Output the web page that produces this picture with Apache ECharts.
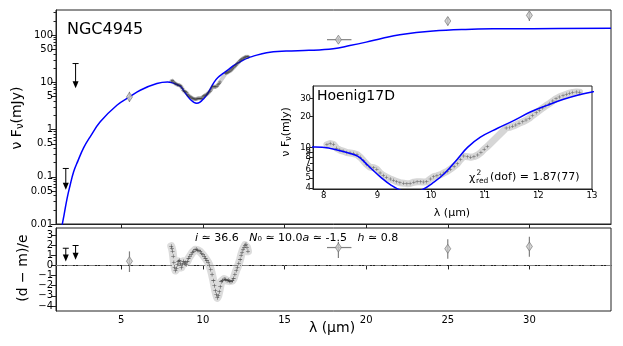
<!DOCTYPE html>
<html>
<head>
<meta charset="utf-8">
<script src="https://cdn.jsdelivr.net/npm/echarts@6/dist/echarts.min.js"></script>
<style>
  html, body { margin: 0; padding: 0; background: #fff; }
  #chart { width: 623px; height: 346px; }
</style>
</head>
<body>
<div id="chart"></div>
<script>
// model SED (blue curve), lambda in micron, nuFnu in mJy
const modelLam = [1.3, 1.39, 1.5, 1.68, 1.85, 2.08, 2.35, 2.69, 3.1, 3.71, 4.73, 5.5, 6.16, 7.18, 7.84, 8.09, 8.46, 8.64, 8.83, 9.07, 9.26, 9.45, 9.62, 9.8, 10.06, 10.25, 10.49, 10.68, 10.92, 11.24, 11.54, 11.85, 12.16, 12.47, 12.78, 13.0, 13.9, 15.1, 16.5, 17.98, 19.0, 20.0, 21.0, 22.06, 24.1, 26.1, 28.2, 30.2, 35];
const modelVal = [0.006, 0.01, 0.016, 0.035, 0.063, 0.128, 0.22, 0.41, 0.71, 1.46, 3.27, 4.9, 6.8, 9.4, 10.1, 9.85, 8.8, 8.15, 6.6, 5.05, 4.24, 3.75, 3.6, 3.75, 4.57, 5.53, 7.66, 10.0, 12.6, 15.4, 18.3, 22.2, 25.8, 29.6, 33, 35, 42.5, 46, 47.5, 51.6, 60, 71, 86, 102, 122, 132, 136, 137, 140];

// Spitzer spectrum (Hoenig17D)
const specLam = [8.06, 8.12, 8.18, 8.24, 8.30, 8.36, 8.43, 8.49, 8.55, 8.62, 8.68, 8.74, 8.80, 8.86, 8.93, 8.99, 9.05, 9.11, 9.17, 9.24, 9.30, 9.36, 9.42, 9.49, 9.55, 9.61, 9.68, 9.74, 9.80, 9.86, 9.92, 9.99, 10.05, 10.11, 10.18, 10.24, 10.30, 10.36, 10.43, 10.49, 10.55, 10.61, 10.68, 10.74, 10.80, 10.87, 10.93, 10.99, 11.05, 11.40, 11.46, 11.52, 11.58, 11.64, 11.71, 11.77, 11.83, 11.89, 11.96, 12.02, 12.08, 12.14, 12.21, 12.27, 12.33, 12.39, 12.46, 12.52, 12.58, 12.64, 12.71, 12.77];
const specVal = [10.6, 10.9, 10.7, 9.8, 9.4, 9.2, 8.9, 8.8, 8.7, 8.5, 8.0, 7.4, 6.8, 6.4, 6.3, 6.1, 5.6, 5.3, 5.1, 4.9, 4.75, 4.6, 4.5, 4.45, 4.4, 4.42, 4.55, 4.6, 4.6, 4.58, 4.6, 4.9, 5.15, 5.25, 5.4, 5.6, 5.8, 6.1, 6.5, 6.9, 7.6, 8.2, 8.1, 8.0, 8.1, 8.4, 8.9, 9.6, 10.2, 15.5, 15.7, 16.1, 16.6, 17.2, 17.8, 18.5, 19.3, 20.5, 21.8, 23.0, 24.3, 25.6, 27.0, 28.5, 30.0, 31.2, 32.3, 33.2, 34.0, 34.6, 34.9, 34.8];

// residuals of the spectrum
const resLam = [8.06, 8.10, 8.14, 8.18, 8.22, 8.27, 8.32, 8.38, 8.44, 8.50, 8.56, 8.62, 8.68, 8.74, 8.80, 8.86, 8.92, 8.98, 9.05, 9.12, 9.20, 9.28, 9.36, 9.44, 9.52, 9.60, 9.68, 9.76, 9.84, 9.92, 10.00, 10.08, 10.16, 10.24, 10.32, 10.40, 10.48, 10.56, 10.64, 10.70, 10.76, 10.82, 10.88, 10.94, 11.00, 11.06, 11.12, 11.20, 11.30, 11.40, 11.48, 11.56, 11.64, 11.72, 11.80, 11.88, 11.96, 12.04, 12.12, 12.20, 12.28, 12.34, 12.40, 12.46, 12.52, 12.58, 12.64, 12.70, 12.76];
const resVal = [1.9, 1.7, 1.4, 0.9, 0.3, -0.2, -0.5, -0.3, 0.1, 0.4, 0.5, 0.2, -0.2, 0.1, 0.4, 0.2, 0.3, 0.1, 0.4, 0.7, 0.9, 1.1, 1.3, 1.4, 1.55, 1.6, 1.5, 1.45, 1.35, 1.2, 1.05, 0.9, 0.7, 0.5, 0.3, 0.0, -0.4, -0.9, -1.5, -2.0, -2.5, -2.9, -3.2, -3.0, -2.6, -2.1, -1.6, -1.5, -1.35, -1.4, -1.5, -1.45, -1.55, -1.6, -1.5, -1.3, -0.9, -0.5, -0.2, 0.2, 0.6, 1.0, 1.3, 1.6, 1.8, 2.0, 2.1, 1.8, 1.4];

// photometry (diamonds)
const photLam = [5.5, 18.3, 25, 30];
const photVal = [4.9, 80, 199, 262];
const photLo = [3.85, 73, 160, 200];
const photHi = [6.3, 88, 240, 318];
const photXlo = [5.5, 17.6, 25, 30];
const photXhi = [5.5, 19.1, 25, 30];
const photRes = [0.42, 1.77, 1.65, 1.87];
const photResLo = [-0.65, 0.74, 0.65, 0.87];
const photResHi = [1.39, 2.35, 2.58, 2.84];

// upper limits (arrows)
const limLam = [1.6, 2.2];
const limTop = [0.15, 25];
const limTip = [0.053, 7.5];
const limResTop = [1.7, 1.97];
const limResTip = [0.39, 0.56];

// ticks
const xTicks = [5, 10, 15, 20, 25, 30];
const mainYLabels = [0.01, 0.05, 0.1, 0.5, 1, 5, 10, 50, 100];
const mainYMinor = [0.02, 0.03, 0.04, 0.06, 0.07, 0.08, 0.09, 0.2, 0.3, 0.4, 0.6, 0.7, 0.8, 0.9, 2, 3, 4, 6, 7, 8, 9, 20, 30, 40, 60, 70, 80, 90, 200, 300];
const resYTicks = [-4, -3, -2, -1, 0, 1, 2, 3];
const insetXTicks = [8, 9, 10, 11, 12, 13];
const insetYTicks = [4, 5, 6, 7, 8, 9, 10, 20, 30];

const FONT = 'DejaVu Sans';
const AX = '#222';
const zip = (a, b) => a.map((v, i) => [v, b[i]]);

const crossSymbol = 'path://M0,4.3H10V5.7H0ZM4.3,0H5.7V10H4.3Z';

function errorBarItem(params, api) {
    const x = api.value(0), y = api.value(1);
    const c = api.coord([x, y]);
    const lo = api.coord([x, api.value(2)]);
    const hi = api.coord([x, api.value(3)]);
    const l = api.coord([api.value(4), y]);
    const r = api.coord([api.value(5), y]);
    const style = { stroke: '#808080', lineWidth: 1.2 };
    return { type: 'group', children: [
        { type: 'line', shape: { x1: c[0], y1: lo[1], x2: c[0], y2: hi[1] }, style },
        { type: 'line', shape: { x1: l[0], y1: c[1], x2: r[0], y2: c[1] }, style }
    ]};
}

function upperLimitItem(params, api) {
    const x = api.value(0);
    const top = api.coord([x, api.value(1)]);
    const tip = api.coord([x, api.value(2)]);
    const style = { stroke: '#000', lineWidth: 1 };
    return { type: 'group', children: [
        { type: 'line', shape: { x1: top[0], y1: top[1], x2: tip[0], y2: tip[1] - 4 }, style },
        { type: 'line', shape: { x1: top[0] - 3, y1: top[1], x2: top[0] + 3, y2: top[1] }, style },
        { type: 'polygon', shape: { points: [[tip[0] - 3, tip[1] - 7], [tip[0] + 3, tip[1] - 7], [tip[0], tip[1]]] }, style: { fill: '#000' } }
    ]};
}

const tickLabel = (size) => ({ fontSize: size, fontFamily: FONT, color: '#000' });

const chart = echarts.init(document.getElementById('chart'));
chart.setOption({
    animation: false,
    backgroundColor: '#fff',
    grid: [
        { left: 56, top: 10, right: 12, height: 214, show: true, borderColor: AX, borderWidth: 1 },
        { left: 56, top: 228, right: 12, height: 83, show: true, borderColor: AX, borderWidth: 1 },
        { left: 313, top: 86, width: 279, height: 103, show: true, borderColor: AX, borderWidth: 1, backgroundColor: '#fff', z: 5 }
    ],
    xAxis: [
        { gridIndex: 0, type: 'value', min: 1, max: 35, splitLine: { show: false },
          axisLine: { lineStyle: { color: AX } },
          axisTick: { customValues: xTicks, length: 4, lineStyle: { color: AX } },
          axisLabel: { show: false } },
        { gridIndex: 1, type: 'value', min: 1, max: 35, splitLine: { show: false },
          axisLine: { lineStyle: { color: AX } },
          axisTick: { customValues: xTicks, length: 4, lineStyle: { color: AX } },
          axisLabel: Object.assign({ customValues: xTicks, margin: 4 }, tickLabel(10)) },
        { gridIndex: 2, type: 'value', min: 7.8, max: 13, splitLine: { show: false }, z: 6,
          axisLine: { lineStyle: { color: AX } },
          axisTick: { customValues: insetXTicks, length: 3, lineStyle: { color: AX } },
          axisLabel: Object.assign({ customValues: insetXTicks, margin: 2 }, tickLabel(8.5)) }
    ],
    yAxis: [
        { gridIndex: 0, type: 'log', logBase: 10, min: 0.01, max: 340, position: 'left', splitLine: { show: false },
          axisLine: { show: true, lineStyle: { color: AX } },
          axisTick: { customValues: mainYLabels, length: 5, lineStyle: { color: AX } },
          axisLabel: Object.assign({ customValues: mainYLabels, margin: 3,
              formatter: v => String(+(+v).toPrecision(4)) }, tickLabel(10)) },
        { gridIndex: 0, type: 'log', logBase: 10, min: 0.01, max: 340, position: 'left', splitLine: { show: false },
          axisLine: { show: false },
          axisTick: { customValues: mainYMinor, length: 2.5, lineStyle: { color: AX } },
          axisLabel: { show: false } },
        { gridIndex: 1, type: 'value', min: -4.5, max: 3.7, splitLine: { show: false },
          axisLine: { show: true, lineStyle: { color: AX } },
          axisTick: { customValues: resYTicks, length: 5, lineStyle: { color: AX } },
          axisLabel: Object.assign({ customValues: resYTicks, margin: 3,
              formatter: v => (v < 0 ? '\u2212' + (-v) : String(v)) }, tickLabel(10)) },
        { gridIndex: 2, type: 'log', logBase: 10, min: 3.9, max: 40, splitLine: { show: false }, z: 6,
          axisLine: { show: true, lineStyle: { color: AX } },
          axisTick: { customValues: insetYTicks, length: 3, lineStyle: { color: AX } },
          axisLabel: Object.assign({ customValues: insetYTicks, margin: 2 }, tickLabel(8.5)) }
    ],
    series: [
        // ---- main panel
        { type: 'line', xAxisIndex: 0, yAxisIndex: 0, data: zip(specLam, specVal), symbol: 'none', z: 1,
          lineStyle: { color: '#cfcfcf', width: 4, cap: 'round', join: 'round' } },
        { type: 'line', xAxisIndex: 0, yAxisIndex: 0, data: zip(modelLam, modelVal), symbol: 'none',
          smooth: 0.4, z: 2,
          lineStyle: { color: '#0000ff', width: 1.5 } },
        { type: 'scatter', xAxisIndex: 0, yAxisIndex: 0, data: zip(specLam, specVal), symbol: crossSymbol, symbolSize: 3.5, z: 3,
          itemStyle: { color: '#2a2a2a' } },
        { type: 'custom', xAxisIndex: 0, yAxisIndex: 0, renderItem: errorBarItem, z: 3,
          data: photLam.map((l, i) => [l, photVal[i], photLo[i], photHi[i], photXlo[i], photXhi[i]]) },
        { type: 'scatter', xAxisIndex: 0, yAxisIndex: 0, data: zip(photLam, photVal), symbol: 'diamond', symbolSize: [6, 9], z: 4,
          itemStyle: { color: '#c8c8c8', borderColor: '#707070', borderWidth: 0.8 } },
        { type: 'custom', xAxisIndex: 0, yAxisIndex: 0, renderItem: upperLimitItem, z: 3,
          data: limLam.map((l, i) => [l, limTop[i], limTip[i]]) },

        // ---- residual panel
        { type: 'line', xAxisIndex: 1, yAxisIndex: 2, data: zip(resLam, resVal), symbol: 'none', z: 1,
          lineStyle: { color: '#dcdcdc', width: 8, cap: 'round', join: 'round' },
          markLine: { silent: true, symbol: 'none', label: { show: false }, data: [{ yAxis: 0 }],
              lineStyle: { color: '#808080', width: 1, type: [6, 2, 1, 2] } } },
        { type: 'scatter', xAxisIndex: 1, yAxisIndex: 2, data: zip(resLam, resVal), symbol: crossSymbol, symbolSize: 4, z: 3,
          itemStyle: { color: '#2a2a2a' } },
        { type: 'custom', xAxisIndex: 1, yAxisIndex: 2, renderItem: errorBarItem, z: 3,
          data: photLam.map((l, i) => [l, photRes[i], photResLo[i], photResHi[i], photXlo[i], photXhi[i]]) },
        { type: 'scatter', xAxisIndex: 1, yAxisIndex: 2, data: zip(photLam, photRes), symbol: 'diamond', symbolSize: [6, 9], z: 4,
          itemStyle: { color: '#c8c8c8', borderColor: '#707070', borderWidth: 0.8 } },
        { type: 'custom', xAxisIndex: 1, yAxisIndex: 2, renderItem: upperLimitItem, z: 3,
          data: limLam.map((l, i) => [l, limResTop[i], limResTip[i]]) },

        // ---- inset
        { type: 'line', xAxisIndex: 2, yAxisIndex: 3, data: zip(specLam, specVal), symbol: 'none', z: 6,
          lineStyle: { color: '#d6d6d6', width: 7, cap: 'round', join: 'round' } },
        { type: 'scatter', xAxisIndex: 2, yAxisIndex: 3, data: zip(specLam, specVal), symbol: crossSymbol, symbolSize: 3.5, z: 7,
          itemStyle: { color: '#444' } },
        { type: 'line', xAxisIndex: 2, yAxisIndex: 3, data: zip(modelLam, modelVal), symbol: 'none',
          smooth: 0.4, z: 8,
          lineStyle: { color: '#0000ff', width: 1.5 } }
    ],
    graphic: [
        { type: 'text', x: 67, y: 30, z: 10,
          style: { text: 'NGC4945', font: '16px "DejaVu Sans"', fill: '#000', verticalAlign: 'middle' } },
        { type: 'text', x: 317, y: 96, z: 10,
          style: { text: 'Hoenig17D', font: '14px "DejaVu Sans"', fill: '#000', verticalAlign: 'middle' } },
        { type: 'text', x: 17, y: 118, rotation: Math.PI / 2, z: 10,
          style: { text: '{a|\u03bd F}{s|\u03bd}{a|(mJy)}', align: 'center', verticalAlign: 'middle',
              rich: { a: { fontSize: 14, fontFamily: FONT, fill: '#000' },
                      s: { fontSize: 10, fontFamily: FONT, fill: '#000', verticalAlign: 'bottom', padding: [6, 0, 0, 0] } } } },
        { type: 'text', x: 23, y: 268, rotation: Math.PI / 2, z: 10,
          style: { text: '(d \u2212 m)/e', font: '14px "DejaVu Sans"', fill: '#000', align: 'center', verticalAlign: 'middle' } },
        { type: 'text', x: 332, y: 328, z: 10,
          style: { text: '\u03bb (\u03bcm)', font: '14px "DejaVu Sans"', fill: '#000', align: 'center', verticalAlign: 'middle' } },
        { type: 'text', x: 286, y: 132, rotation: Math.PI / 2, z: 10,
          style: { text: '{a|\u03bd F}{s|\u03bd}{a|(mJy)}', align: 'center', verticalAlign: 'middle',
              rich: { a: { fontSize: 11, fontFamily: FONT, fill: '#000' },
                      s: { fontSize: 8, fontFamily: FONT, fill: '#000', verticalAlign: 'bottom', padding: [5, 0, 0, 0] } } } },
        { type: 'text', x: 452, y: 213, z: 10,
          style: { text: '\u03bb (\u03bcm)', font: '11px "DejaVu Sans"', fill: '#000', align: 'center', verticalAlign: 'middle' } },
        { type: 'text', x: 469, y: 178, z: 10,
          style: { text: '\u03c7', font: '11px "DejaVu Sans"', fill: '#000', verticalAlign: 'middle' } },
        { type: 'text', x: 476.5, y: 173, z: 10,
          style: { text: '2', font: '7.5px "DejaVu Sans"', fill: '#000', verticalAlign: 'middle' } },
        { type: 'text', x: 476, y: 181.5, z: 10,
          style: { text: 'red', font: '7.5px "DejaVu Sans"', fill: '#000', verticalAlign: 'middle' } },
        { type: 'text', x: 490, y: 177.5, z: 10,
          style: { text: '(dof) = 1.87(77)', font: '11px "DejaVu Sans"', fill: '#000', verticalAlign: 'middle' } },
        { type: 'text', x: 195, y: 238, z: 10,
          style: { text: '{i|i} \u2243 36.6   {i|N}\u2080 \u2243 10.0{i|a} \u2243 -1.5   {i|h} \u2243 0.8',
              font: '11px "DejaVu Sans"', fill: '#000', verticalAlign: 'middle',
              rich: { i: { fontStyle: 'italic', fontSize: 11, fontFamily: FONT, fill: '#000' } } } }
    ]
});

window.addEventListener('resize', () => chart.resize());
</script>
</body>
</html>
